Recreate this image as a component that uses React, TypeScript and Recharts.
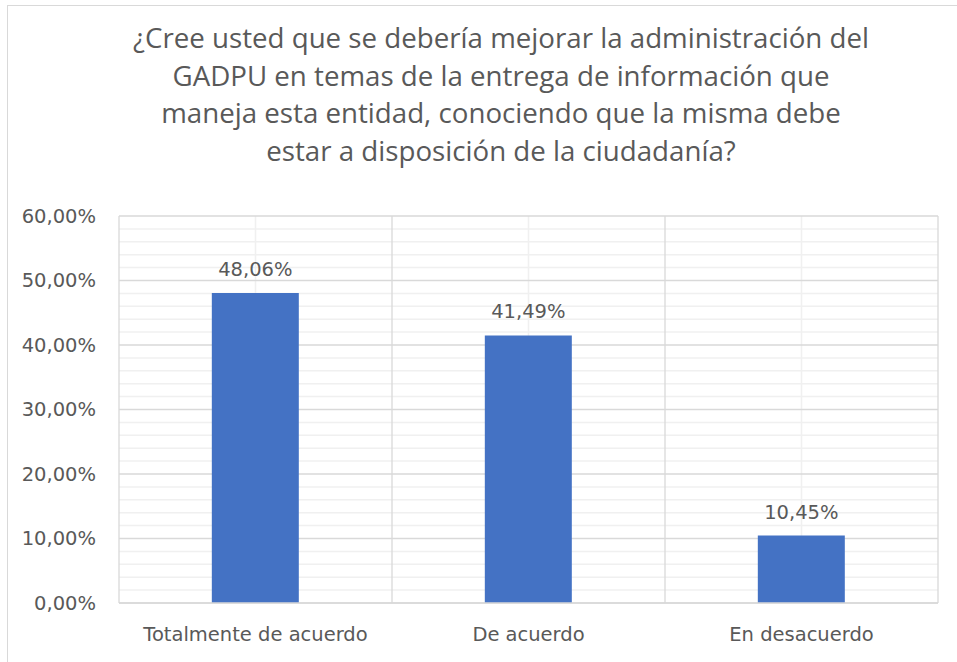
import React from 'react';
import { BarChart, Bar, XAxis, YAxis, CartesianGrid, LabelList } from 'recharts';

const categories = ['Totalmente de acuerdo', 'De acuerdo', 'En desacuerdo'];
const porcentajes = [48.06, 41.49, 10.45];
const majorTicks = [0, 10, 20, 30, 40, 50, 60];
const minorTicks = [2, 4, 6, 8, 12, 14, 16, 18, 22, 24, 26, 28, 32, 34, 36, 38, 42, 44, 46, 48, 52, 54, 56, 58];
const titleLines = [
    '¿Cree usted que se debería mejorar la administración del',
    'GADPU en temas de la entrega de información que',
    'maneja esta entidad, conociendo que la misma debe',
    'estar a disposición de la ciudadanía?',
];

const data = categories.map((name, i) => ({ name, value: porcentajes[i] }));

const yMax = majorTicks[majorTicks.length - 1];
const fmt = (v: number) => v.toFixed(2).replace('.', ',') + '%';
const textColor = '#595959';
const font = '"DejaVu Sans", sans-serif';

// lineas de la grilla: centros de categoria (menores) y bordes (mayores)
const catEdges = ({ offset }: any) =>
    [0, 1, 2, 3].map((i) => offset.left + (i * offset.width) / categories.length);
const catCenters = ({ offset }: any) =>
    [0, 1, 2].map((i) => offset.left + ((i + 0.5) * offset.width) / categories.length);
const minorRows = ({ yAxis, offset }: any) =>
    minorTicks.map((t) =>
        typeof yAxis?.scale === 'function' ? yAxis.scale(t) : offset.top + offset.height * (1 - t / yMax)
    );

const App = () => {
    return (
        <div style={{ position: 'absolute', left: 0, top: 0, width: 957, height: 662, background: '#fff', overflow: 'hidden' }}>
            <div style={{ position: 'absolute', left: 7, top: 5, width: 1000, height: 700, border: '1px solid #d9d9d9' }} />
            <div
                style={{
                    position: 'absolute',
                    left: 101,
                    top: 19,
                    width: 800,
                    textAlign: 'center',
                    fontFamily: '"Open Sans", sans-serif',
                    fontSize: 27.7,
                    lineHeight: '37.5px',
                    color: textColor,
                }}
            >
                {titleLines.map((l) => (
                    <div key={l}>{l}</div>
                ))}
            </div>
            <div style={{ position: 'absolute', left: 0, top: 0 }}>
                <BarChart
                    width={957}
                    height={662}
                    data={data}
                    barCategoryGap="34%"
                    margin={{ top: 216, right: 19, bottom: 0, left: 0 }}
                >
                    <CartesianGrid
                        stroke="#f0f0f0"
                        strokeWidth={1.5}
                        horizontalCoordinatesGenerator={minorRows}
                        verticalCoordinatesGenerator={catCenters}
                    />
                    <CartesianGrid
                        stroke="#d9d9d9"
                        strokeWidth={1.3}
                        verticalCoordinatesGenerator={catEdges}
                    />
                    <XAxis
                        dataKey="name"
                        height={59}
                        axisLine={{ stroke: '#d9d9d9', strokeWidth: 1.3 }}
                        tickLine={false}
                        tickSize={0}
                        tickMargin={24}
                        tick={{ fill: textColor, fontSize: 19.5, fontFamily: font }}
                    />
                    <YAxis
                        width={119}
                        domain={[0, yMax]}
                        ticks={majorTicks}
                        tickFormatter={fmt}
                        axisLine={false}
                        tickLine={false}
                        tickSize={0}
                        tickMargin={23}
                        tick={{ fill: textColor, fontSize: 19.5, fontFamily: font }}
                    />
                    <Bar dataKey="value" fill="#4472c4" isAnimationActive={false}>
                        <LabelList
                            dataKey="value"
                            position="top"
                            offset={17}
                            formatter={(v: any) => fmt(Number(v))}
                            style={{ fill: textColor, fontSize: 19.5, fontFamily: font }}
                        />
                    </Bar>
                </BarChart>
            </div>
        </div>
    );
};

export default App;
